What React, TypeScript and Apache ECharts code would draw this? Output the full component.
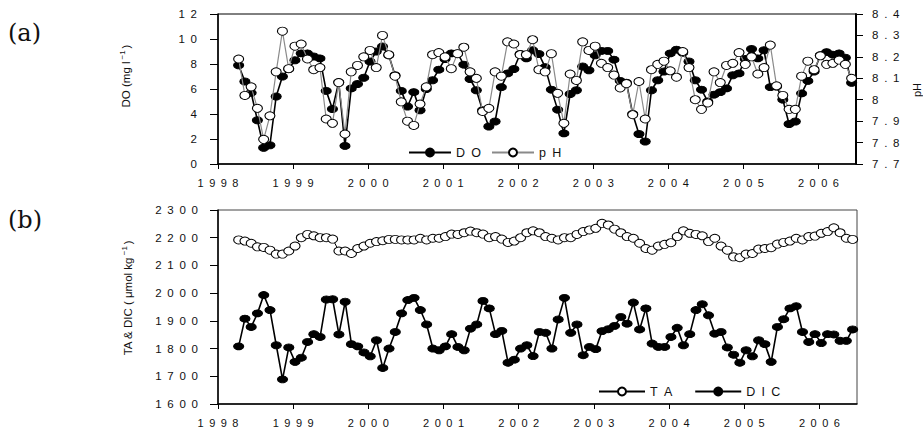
import React, { useEffect, useRef } from 'react';
import * as echarts from 'echarts';

// Monthly sampling: April 1998 – June 2006 (sampled around the 10th of each month)
const START_YEAR = 1998;
const START_MONTH = 4;
const SAMPLE_DAY = 10;

const DO_VALUES = [
  7.9, 6.6, 5.7, 3.5, 1.3, 1.5, 5.4, 7.0, 7.6,
  8.3, 8.85, 8.85, 8.6, 8.45, 5.85, 4.4, 6.55, 1.45, 6.05, 6.4, 6.9,
  8.2, 9.0, 9.4, 8.7, 7.1, 5.85, 4.6, 5.75, 4.3, 6.0, 6.7, 7.55,
  8.4, 8.85, 8.85, 7.95, 6.8, 5.9, 4.3, 3.0, 3.4, 6.15, 7.25, 7.6,
  8.8, 8.45, 9.1, 8.8, 7.75, 5.95, 4.35, 2.45, 5.6, 5.9, 7.8, 7.5,
  8.7, 9.05, 9.05, 8.35, 6.65, 6.5, 4.0, 2.4, 1.8, 5.9, 6.7, 7.4,
  8.85, 9.15, 8.9, 8.2, 6.7, 5.95, 5.0, 5.55, 5.75, 6.05, 7.1, 7.25,
  8.4, 9.2, 8.45, 9.1, 6.15, 6.2, 5.15, 3.2, 3.4, 5.65, 6.65, 7.4,
  8.7, 8.95, 8.75, 8.85, 8.5, 6.5,
];

const PH_VALUES = [
  8.19, 8.02, 8.06, 7.96, 7.815, 7.925, 8.13, 8.32, 8.145,
  8.25, 8.26, 8.19, 8.14, 8.15, 7.91, 7.89, 8.08, 7.84, 8.13, 8.16, 8.2,
  8.23, 8.15, 8.3, 8.21, 8.11, 7.99, 7.9, 7.88, 7.98, 8.06, 8.21, 8.22,
  8.2, 8.145, 8.215, 8.245, 8.13, 8.1, 7.945, 7.96, 8.13, 8.11, 8.27, 8.26,
  8.21, 8.21, 8.28, 8.14, 8.13, 8.215, 8.03, 7.89, 8.12, 8.09, 8.27, 8.23,
  8.25, 8.17, 8.15, 8.115, 8.055, 8.075, 7.93, 8.085, 7.91, 8.14, 8.165, 8.18,
  8.135, 8.105, 8.225, 8.15, 8.0, 7.955, 7.985, 8.13, 8.08, 8.16, 8.17, 8.22,
  8.165, 8.2, 8.12, 8.15, 8.255, 8.065, 8.02, 7.955, 7.955, 8.11, 8.18, 8.14,
  8.205, 8.165, 8.17, 8.185, 8.165, 8.1,
];

const TA_VALUES = [
  2192, 2188, 2180, 2167, 2165, 2155, 2141, 2141, 2152,
  2170, 2200, 2212, 2207, 2200, 2200, 2195, 2152, 2152, 2143, 2161, 2170,
  2180, 2186, 2189, 2194, 2194, 2192, 2192, 2192, 2198, 2192, 2198, 2198,
  2204, 2213, 2212, 2218, 2224, 2218, 2213, 2200, 2204, 2195, 2183, 2188,
  2200, 2218, 2225, 2218, 2204, 2198, 2192, 2200, 2200, 2212, 2222, 2228,
  2234, 2252, 2246, 2231, 2218, 2204, 2198, 2180, 2161, 2155, 2170, 2176,
  2182, 2204, 2225, 2216, 2212, 2207, 2186, 2198, 2170, 2155, 2131, 2128,
  2141, 2143, 2159, 2161, 2164, 2177, 2183, 2188, 2198, 2192, 2204, 2206,
  2216, 2222, 2236, 2218, 2198, 2194,
];

const DIC_VALUES = [
  1808, 1908, 1878, 1927, 1993, 1939, 1812, 1689, 1804,
  1752, 1767, 1824, 1852, 1842, 1977, 1978, 1851, 1969, 1816, 1808, 1786,
  1772, 1830, 1730, 1800, 1860, 1927, 1975, 1983, 1939, 1887, 1800, 1794,
  1808, 1852, 1806, 1794, 1872, 1887, 1972, 1945, 1852, 1864, 1749, 1760,
  1800, 1812, 1773, 1860, 1857, 1800, 1905, 1983, 1857, 1887, 1776, 1806,
  1798, 1863, 1870, 1882, 1914, 1890, 1966, 1869, 1945, 1818, 1806, 1806,
  1842, 1875, 1812, 1852, 1939, 1960, 1920, 1854, 1860, 1804, 1778, 1749,
  1794, 1772, 1830, 1816, 1752, 1878, 1906, 1945, 1953, 1860, 1824, 1852,
  1820, 1852, 1851, 1828, 1828, 1869,
];

const X_MIN = 1998;
const X_MAX = 2006.5;
const DO_RANGE = [0, 12, 2];
const PH_RANGE = [7.7, 8.4, 0.1];
const TA_RANGE = [1600, 2300, 100];

// wide letter spacing like the original (en space between characters)
const spaced = (s: string) => s.split('').join('\u2002');

const LEGEND_A = [spaced('DO'), spaced('pH')];
const LEGEND_B = [spaced('TA'), spaced('DIC')];

function sampleTimes(n: number): number[] {
  const out: number[] = [];
  for (let i = 0; i < n; i++) {
    const mIdx = START_MONTH - 1 + i;
    out.push(START_YEAR + (mIdx + (SAMPLE_DAY - 1) / 30) / 12);
  }
  return out;
}

const FONT = 'Liberation Sans, Arial, sans-serif';

export default function App() {
  const ref = useRef<HTMLDivElement>(null);

  useEffect(() => {
    if (!ref.current) return;
    const chart = echarts.init(ref.current, undefined, { renderer: 'svg' });
    const times = sampleTimes(DO_VALUES.length);
    const pairs = (vals: number[]) => vals.map((v, i) => [times[i], v]);

    const labelStyle = { color: '#111', fontFamily: FONT, fontSize: 11 };
    const axisLine = { show: true, lineStyle: { color: '#000', width: 1.5 } };

    const xAxisBase = (gridIndex: number) => ({
      gridIndex,
      type: 'value',
      min: X_MIN,
      max: X_MAX,
      interval: 1,
      axisLine,
      axisTick: { show: true, inside: false, length: 5, lineStyle: { color: '#000', width: 1 } },
      axisLabel: {
        ...labelStyle,
        fontSize: 11,
        margin: 13,
        showMaxLabel: false,
        formatter: (v: number) => (Number.isInteger(v) ? spaced(String(v)) : ''),
      },
      splitLine: { show: false },
    });

    const filled = { color: '#000', borderColor: '#000', borderWidth: 1 };
    const open = { color: '#fff', borderColor: '#000', borderWidth: 1 };

    const option: any = {
      animation: false,
      backgroundColor: '#fff',
      grid: [
        { left: 218, top: 14, width: 638, height: 150, show: true, borderColor: '#000', borderWidth: 1, backgroundColor: 'transparent' },
        { left: 218, top: 210, width: 639, height: 194, show: true, borderColor: '#444', borderWidth: 1, backgroundColor: 'transparent' },
      ],
      xAxis: [xAxisBase(0), xAxisBase(1)],
      yAxis: [
        {
          gridIndex: 0,
          type: 'value',
          position: 'left',
          min: DO_RANGE[0],
          max: DO_RANGE[1],
          interval: DO_RANGE[2],
          axisLine,
          axisTick: { show: true, length: 8, lineStyle: { color: '#000' } },
          axisLabel: { ...labelStyle, fontSize: 11.5, margin: 21, formatter: (v: number) => spaced(String(v)) },
          splitLine: { show: false },
        },
        {
          gridIndex: 0,
          type: 'value',
          position: 'right',
          min: PH_RANGE[0],
          max: PH_RANGE[1],
          interval: PH_RANGE[2],
          axisLine: { show: true, lineStyle: { color: '#000', width: 2 } },
          axisTick: { show: true, length: 7, lineStyle: { color: '#000' } },
          axisLabel: {
            ...labelStyle,
            fontSize: 11.5,
            margin: 16,
            formatter: (v: number) => spaced(String(Math.round(v * 10) / 10)),
          },
          splitLine: { show: false },
        },
        {
          gridIndex: 1,
          type: 'value',
          position: 'left',
          min: TA_RANGE[0],
          max: TA_RANGE[1],
          interval: TA_RANGE[2],
          axisLine,
          axisTick: { show: true, length: 8, lineStyle: { color: '#000' } },
          axisLabel: { ...labelStyle, fontSize: 11.5, margin: 20, formatter: (v: number) => spaced(String(v)) },
          splitLine: { show: false },
        },
      ],
      legend: [
        {
          data: LEGEND_A,
          left: 403,
          top: 141,
          itemWidth: 42,
          itemHeight: 10,
          itemGap: 10,
          textStyle: { color: '#111', fontFamily: FONT, fontSize: 12.5 },
          selectedMode: false,
        },
        {
          data: LEGEND_B,
          left: 593,
          top: 380,
          itemWidth: 46,
          itemHeight: 10,
          itemGap: 22,
          textStyle: { color: '#111', fontFamily: FONT, fontSize: 12.5 },
          selectedMode: false,
        },
      ],
      series: [
        {
          name: LEGEND_A[0],
          type: 'line',
          xAxisIndex: 0,
          yAxisIndex: 0,
          data: pairs(DO_VALUES),
          symbol: 'circle',
          symbolSize: [10, 7],
          itemStyle: filled,
          lineStyle: { color: '#000', width: 1.6 },
          z: 2,
          silent: true,
        },
        {
          name: LEGEND_A[1],
          type: 'line',
          xAxisIndex: 0,
          yAxisIndex: 1,
          data: pairs(PH_VALUES),
          symbol: 'circle',
          symbolSize: [10, 8],
          itemStyle: open,
          lineStyle: { color: '#8a8a8a', width: 1.2 },
          z: 3,
          silent: true,
        },
        {
          name: LEGEND_B[0],
          type: 'line',
          xAxisIndex: 1,
          yAxisIndex: 2,
          data: pairs(TA_VALUES),
          symbol: 'circle',
          symbolSize: [10, 8],
          itemStyle: open,
          lineStyle: { color: '#000', width: 1 },
          z: 3,
          silent: true,
        },
        {
          name: LEGEND_B[1],
          type: 'line',
          xAxisIndex: 1,
          yAxisIndex: 2,
          data: pairs(DIC_VALUES),
          symbol: 'circle',
          symbolSize: [10, 7],
          itemStyle: filled,
          lineStyle: { color: '#000', width: 1.6 },
          z: 2,
          silent: true,
        },
      ],
      graphic: [
        {
          type: 'text',
          left: 8,
          top: 21,
          style: { text: '(a)', fontFamily: 'DejaVu Serif, serif', fontSize: 24, fill: '#111' },
        },
        {
          type: 'text',
          left: 8,
          top: 208,
          style: { text: '(b)', fontFamily: 'DejaVu Serif, serif', fontSize: 24, fill: '#111' },
        },
        {
          type: 'text',
          x: 126,
          y: 76,
          rotation: Math.PI / 2,
          style: {
            text: 'DO (mg l{sup|−1})',
            fontFamily: FONT,
            fontSize: 11.5,
            fill: '#111',
            align: 'center',
            verticalAlign: 'middle',
            rich: { sup: { fontSize: 8, fontFamily: FONT, fill: '#111', padding: [0, 2, 7, 2] } },
          },
        },
        {
          type: 'text',
          x: 128,
          y: 298,
          rotation: Math.PI / 2,
          style: {
            text: 'TA & DIC ( μmol kg{sup|−1})',
            fontFamily: FONT,
            fontSize: 11.5,
            fill: '#111',
            align: 'center',
            verticalAlign: 'middle',
            rich: { sup: { fontSize: 8, fontFamily: FONT, fill: '#111', padding: [0, 2, 7, 2] } },
          },
        },
        {
          type: 'text',
          x: 917,
          y: 90,
          rotation: Math.PI / 2,
          style: {
            text: 'pH',
            fontFamily: FONT,
            fontSize: 11,
            fill: '#111',
            align: 'center',
            verticalAlign: 'middle',
          },
        },
      ],
    };

    chart.setOption(option);
    return () => chart.dispose();
  }, []);

  return (
    <div
      ref={ref}
      style={{ position: 'absolute', left: 0, top: 0, width: 923, height: 431, background: '#fff' }}
    />
  );
}
